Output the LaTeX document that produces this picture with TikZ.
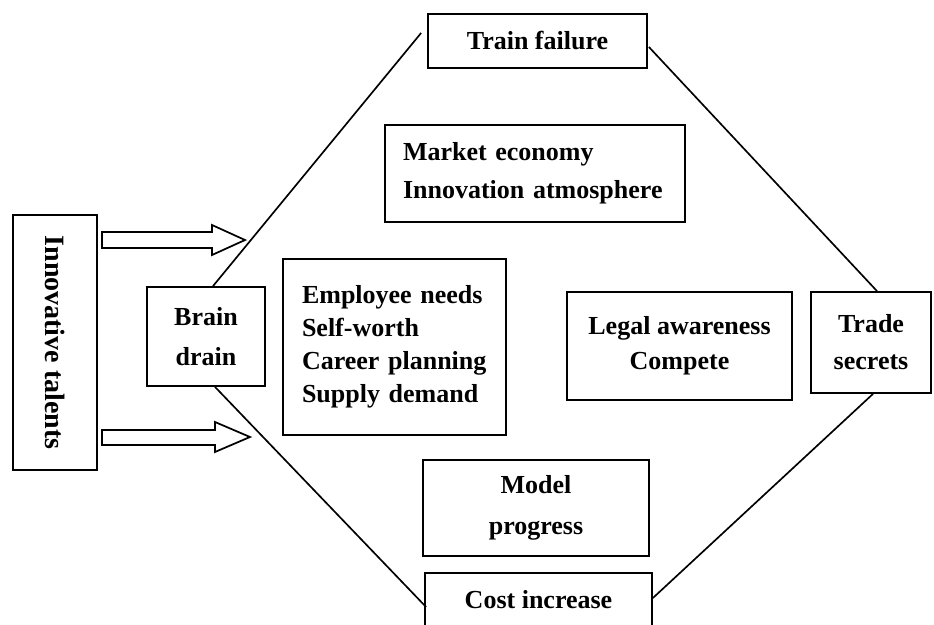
\documentclass[tikz,border=0pt]{standalone}
\usepackage{fontspec}
\setmainfont{Liberation Serif}
\usetikzlibrary{calc}
\begin{document}
\begin{tikzpicture}[x=0.75pt,y=-0.75pt,
  box/.style={draw, line width=1.35pt, inner sep=0pt, align=center,
    font=\fontsize{19.5pt}{#1}\selectfont\bfseries},
  box/.default=25pt,
  size/.style 2 args={minimum width=#1*0.75pt, minimum height=#2*0.75pt},
  leftbox/.style={align=left, text width=#1*0.75pt},
  ln/.style={line width=1.25pt},
  arr/.style={draw, line width=1.3pt, fill=white, line join=miter}]
\path[use as bounding box, clip] (0,0) rectangle (934,624);
\fill[white] (0,0) rectangle (934,624);

% side box and the two hollow arrows
\node[box, rotate=-90, size={255}{84}, font=\fontsize{21pt}{25pt}\selectfont\bfseries]
  (talents) at (55,342.5) {Innovative talents};
\draw[arr] (102,232) -- (212,232) -- (212,225) -- (245,240) -- (212,255)
  -- (212,248) -- (102,248) -- cycle;
\draw[arr] (102,430) -- (215,430) -- (215,422) -- (250,437) -- (215,452)
  -- (215,445) -- (102,445) -- cycle;

% corner boxes of the diamond
\node[box=30pt, size={118}{99}] (brain) at (206,336.5) {Brain\\drain};
\node[box, size={219}{54}] (train) at (537.5,41) {Train failure};
\node[box=27.75pt, size={120}{101}] (trade) at (871,342.5) {Trade\\secrets};
\node[box, size={227}{54}] (cost) at (538.5,600) {Cost increase};

% factor boxes inside the diamond
\node[box=28.5pt, leftbox=264, inner xsep=13.5pt, minimum height=97*0.75pt]
  (market) at (535,173.5) {Market economy\\Innovation atmosphere};
\node[box=24.75pt, leftbox=185, inner xsep=14.25pt, minimum height=176*0.75pt]
  (employee) at (394.5,347) {Employee needs\\Self-worth\\Career planning\\Supply demand};
\node[box=26.25pt, size={225}{108}] (legal) at (679.5,346) {Legal awareness\\Compete};
\node[box=30.75pt, size={226}{96}] (model) at (536,508) {Model\\progress};

% diamond edges
\draw[ln] ([shift={(7,0)}]brain.north) -- ([shift={(-6,-8)}]train.west);
\draw[ln] ([shift={(1,6)}]train.east) -- ([shift={(6,0)}]trade.north);
\draw[ln] ([shift={(9,0)}]brain.south) -- ([shift={(2,7)}]cost.west);
\draw[ln] ([shift={(0,-2)}]cost.east) -- ([shift={(2,0)}]trade.south);
\end{tikzpicture}
\end{document}
